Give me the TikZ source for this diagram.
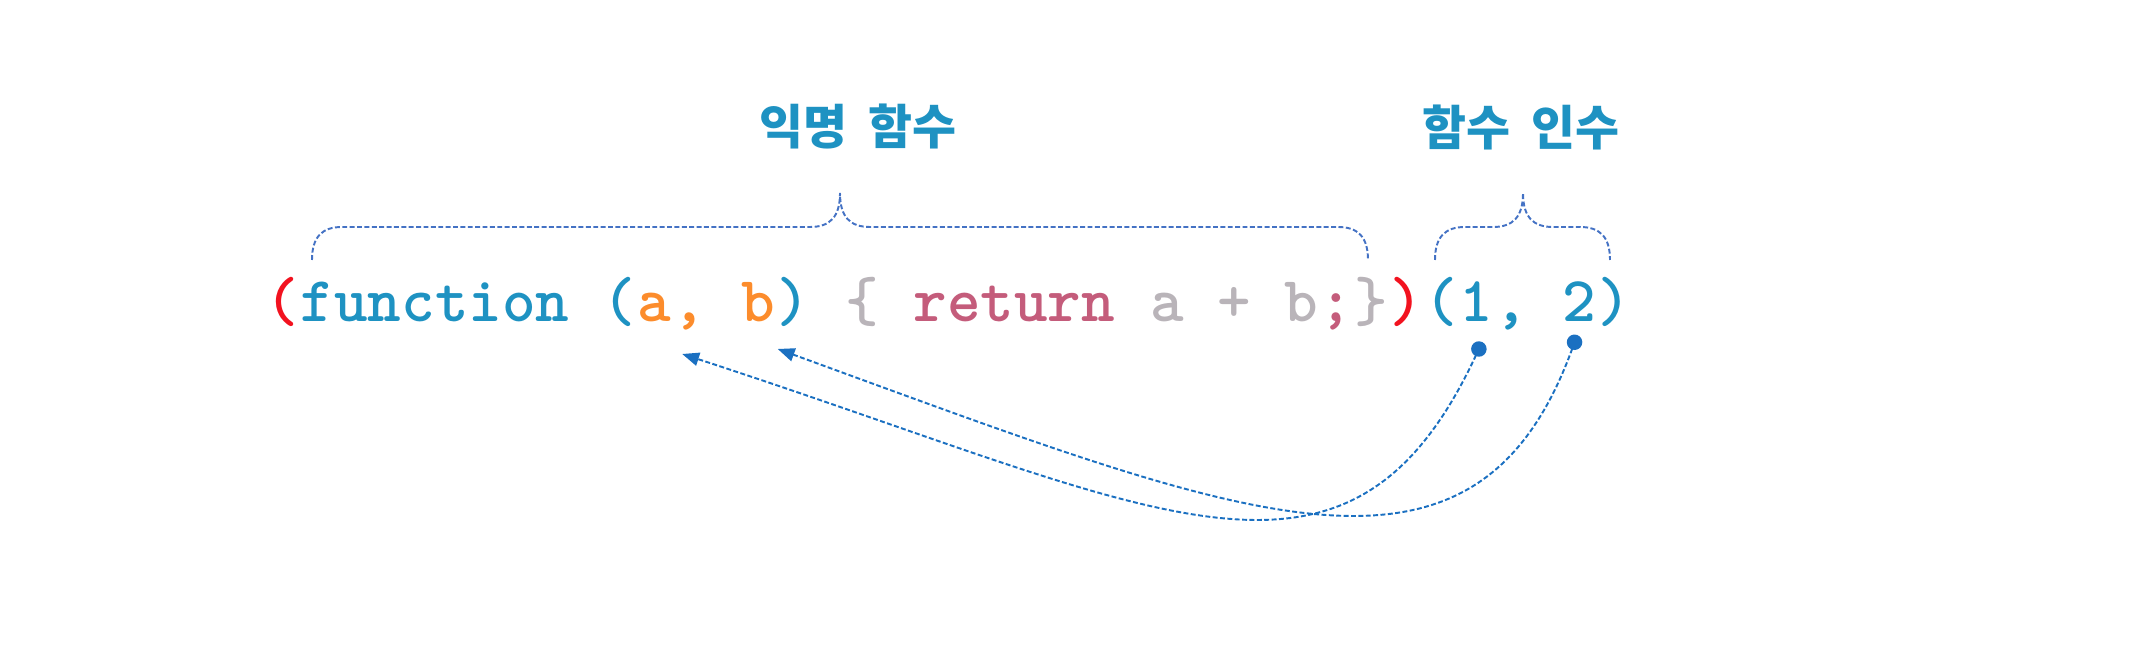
\documentclass[tikz,border=0pt]{standalone}
\usepackage{fontspec}
\newfontfamily\kofont{Noto Sans CJK KR}
\usetikzlibrary{arrows.meta}

\definecolor{parred}{HTML}{F2121F}
\definecolor{fnblue}{HTML}{1E92C2}
\definecolor{argorange}{HTML}{FC8C2C}
\definecolor{bodygray}{HTML}{B9B4B9}
\definecolor{kwpink}{HTML}{C45C7B}
\definecolor{bracecol}{HTML}{4472C4}
\definecolor{arrowcol}{HTML}{1B70C1}

\tikzset{
  code/.style={font=\ttfamily\bfseries\fontsize{18.2}{20}\selectfont, inner sep=0pt, anchor=base west},
  title/.style={font=\kofont\bfseries\fontsize{13.6}{15}\selectfont, text=fnblue, inner sep=0pt},
  bracepath/.style={draw=bracecol, line width=0.55pt, dash pattern=on 1.4pt off 0.7pt},
  argarrow/.style={draw=arrowcol, line width=0.55pt, dash pattern=on 1.4pt off 0.7pt,
    {Circle[length=4.4pt]}-{Triangle[length=4.8pt,width=3.8pt]}}
}

\begin{document}
\begin{tikzpicture}
  \useasboundingbox (0,0) rectangle (21.36,6.70);

  \node[code, text=parred] (lp) at (2.65,3.48) {(};
  \node[code, text=fnblue] (fn) at (lp.base east) {function\ (};
  \node[code, text=argorange] (pa) at (fn.base east) {a};
  \node[code, text=argorange] (pc) at (pa.base east) {,};
  \node[code, text=argorange] (pb) at (pc.base east) {\ b};
  \node[code, text=fnblue] (pr) at (pb.base east) {)};
  \node[code, text=bodygray] (ob) at (pr.base east) {\ \{};
  \node[code, text=kwpink] (rt) at (ob.base east) {\ return};
  \node[code, text=bodygray] (ex) at (rt.base east) {\ a + b};
  \node[code, text=kwpink] (sc) at (ex.base east) {;};
  \node[code, text=bodygray] (cb) at (sc.base east) {\}};
  \node[code, text=parred] (rp) at (cb.base east) {)};
  \node[code, text=fnblue] (ao) at (rp.base east) {(};
  \node[code, text=fnblue] (n1) at (ao.base east) {1};
  \node[code, text=fnblue] (ac) at (n1.base east) {,};
  \node[code, text=fnblue] (n2) at (ac.base east) {\ 2};
  \node[code, text=fnblue] (ap) at (n2.base east) {)};

  \node[title] (anon) at (8.58,5.43) {익명\hspace{0.45em}함수};
  \node[title] (args) at (15.21,5.43) {함수\hspace{0.45em}인수};

  \draw[bracepath] (3.12,4.10) .. controls (3.12,4.33) and (3.22,4.43) .. (3.42,4.43) -- (8.10,4.43)
    .. controls (8.30,4.43) and (8.40,4.53) .. (8.40,4.77)
    .. controls (8.40,4.53) and (8.50,4.43) .. (8.70,4.43) -- (13.38,4.43)
    .. controls (13.58,4.43) and (13.68,4.33) .. (13.68,4.10);
  \draw[bracepath] (14.35,4.10) .. controls (14.35,4.33) and (14.45,4.43) .. (14.65,4.43) -- (14.93,4.43)
    .. controls (15.13,4.43) and (15.23,4.53) .. (15.23,4.77)
    .. controls (15.23,4.53) and (15.33,4.43) .. (15.53,4.43) -- (15.80,4.43)
    .. controls (16.00,4.43) and (16.10,4.33) .. (16.10,4.10);

  \draw[argarrow] ([shift={(0.06,-0.20)}]n1.base) .. controls +(245:3.2) and +(-18:5.0) .. ([shift={(0.10,-0.32)}]pa.base east);
  \draw[argarrow] ([shift={(-0.20,-0.13)}]n2.base east) .. controls +(250:3.0) and +(-20:5.0) .. ([shift={(0.02,-0.27)}]pb.base east);

\end{tikzpicture}
\end{document}
